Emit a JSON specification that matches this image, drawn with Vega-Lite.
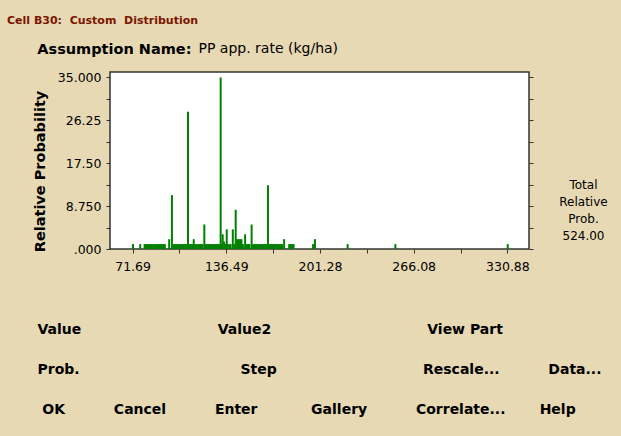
{
  "$schema": "https://vega.github.io/schema/vega-lite/v6.json",
  "width": 419,
  "height": 177,
  "autosize": {"type": "none"},
  "padding": {"left": 110, "top": 72, "right": 92, "bottom": 187},
  "background": "#E6D9B3",
  "config": {
    "view": {"fill": "white", "stroke": "#333333", "strokeWidth": 1.5},
    "font": "DejaVu Sans",
    "axis": {"domain": false, "grid": false, "tickColor": "#333333", "tickSize": 4, "labelColor": "black", "titleColor": "black", "labelFont": "DejaVu Sans", "titleFont": "DejaVu Sans"}
  },
  "title": {
    "text": "Cell B30:\u00a0 Custom\u00a0 Distribution",
    "subtitle": "\u200b\u00a0\u00a0\u00a0\u00a0\u00a0\u00a0Assumption Name:",
    "anchor": "start",
    "frame": "group",
    "dx": -103,
    "dy": 31,
    "offset": 16,
    "subtitlePadding": 17,
    "font": "DejaVu Sans",
    "fontSize": 11,
    "fontWeight": "bold",
    "color": "#7B1500",
    "subtitleFont": "DejaVu Sans",
    "subtitleFontSize": 14.5,
    "subtitleFontWeight": "bold",
    "subtitleColor": "black"
  },
  "data": {
    "values": [
      {"value": 72, "prob": 1}, {"value": 77, "prob": 1},
      {"value": 80, "prob": 1}, {"value": 81, "prob": 1}, {"value": 82, "prob": 1}, {"value": 83, "prob": 1}, {"value": 84, "prob": 1},
      {"value": 85, "prob": 1}, {"value": 86, "prob": 1}, {"value": 87, "prob": 1}, {"value": 88, "prob": 1}, {"value": 89, "prob": 1},
      {"value": 90, "prob": 1}, {"value": 91, "prob": 1}, {"value": 92, "prob": 1}, {"value": 93, "prob": 1}, {"value": 94, "prob": 1},
      {"value": 97, "prob": 2}, {"value": 98.9, "prob": 11},
      {"value": 100, "prob": 1}, {"value": 101, "prob": 1}, {"value": 102, "prob": 1}, {"value": 103, "prob": 1}, {"value": 104, "prob": 1},
      {"value": 105, "prob": 1}, {"value": 106, "prob": 1}, {"value": 107, "prob": 1}, {"value": 108, "prob": 1}, {"value": 109, "prob": 1},
      {"value": 110, "prob": 28},
      {"value": 111, "prob": 1}, {"value": 112, "prob": 1}, {"value": 113, "prob": 1}, {"value": 114, "prob": 2},
      {"value": 115, "prob": 1}, {"value": 116, "prob": 1}, {"value": 117, "prob": 1}, {"value": 118, "prob": 1}, {"value": 119, "prob": 1},
      {"value": 120, "prob": 1}, {"value": 121.3, "prob": 5},
      {"value": 122, "prob": 1}, {"value": 123, "prob": 1}, {"value": 124, "prob": 1}, {"value": 125, "prob": 1}, {"value": 126, "prob": 1},
      {"value": 127, "prob": 1}, {"value": 128, "prob": 1}, {"value": 129, "prob": 1}, {"value": 130, "prob": 1}, {"value": 131, "prob": 1},
      {"value": 132, "prob": 1}, {"value": 132.6, "prob": 35},
      {"value": 133, "prob": 1}, {"value": 134, "prob": 3}, {"value": 135, "prob": 1.5}, {"value": 136, "prob": 1}, {"value": 136.8, "prob": 4},
      {"value": 137.5, "prob": 1}, {"value": 138.5, "prob": 1}, {"value": 139.5, "prob": 1}, {"value": 141, "prob": 4}, {"value": 142, "prob": 1},
      {"value": 143, "prob": 8}, {"value": 144, "prob": 2}, {"value": 145, "prob": 2}, {"value": 146, "prob": 2}, {"value": 147, "prob": 2},
      {"value": 148, "prob": 1}, {"value": 149.5, "prob": 3}, {"value": 150.5, "prob": 1}, {"value": 151.5, "prob": 1}, {"value": 152.5, "prob": 1},
      {"value": 154, "prob": 5},
      {"value": 155, "prob": 1}, {"value": 156, "prob": 1}, {"value": 157, "prob": 1}, {"value": 158, "prob": 1}, {"value": 159, "prob": 1},
      {"value": 160, "prob": 1}, {"value": 161, "prob": 1}, {"value": 162, "prob": 1}, {"value": 163, "prob": 1}, {"value": 164, "prob": 1},
      {"value": 165.3, "prob": 13},
      {"value": 166, "prob": 1}, {"value": 167, "prob": 1}, {"value": 168, "prob": 1}, {"value": 169, "prob": 1}, {"value": 170, "prob": 1},
      {"value": 171, "prob": 1}, {"value": 172, "prob": 1}, {"value": 173, "prob": 1}, {"value": 174, "prob": 1}, {"value": 175, "prob": 1},
      {"value": 176.5, "prob": 2},
      {"value": 180, "prob": 1}, {"value": 181, "prob": 1}, {"value": 182, "prob": 1}, {"value": 183, "prob": 1},
      {"value": 196.5, "prob": 1}, {"value": 197.8, "prob": 2},
      {"value": 220.4, "prob": 1}, {"value": 253.4, "prob": 1}, {"value": 331.1, "prob": 1}
    ]
  },
  "layer": [
    {
      "mark": {"type": "bar", "width": 2, "color": "#008000"},
      "encoding": {
        "x": {
          "field": "value", "type": "quantitative",
          "scale": {"domain": [59.54, 342.35], "nice": false, "zero": false},
          "axis": {
            "orient": "bottom",
            "values": [71.69, 104.09, 136.49, 168.885, 201.28, 233.68, 266.08, 298.48, 330.88],
            "labelExpr": "datum.value == 71.69 ? '71.69' : datum.value == 136.49 ? '136.49' : datum.value == 201.28 ? '201.28' : datum.value == 266.08 ? '266.08' : datum.value == 330.88 ? '330.88' : ''",
            "labelFontSize": 12.5,
            "labelPadding": 7,
            "labelOverlap": false,
            "labelFlush": false,
            "encode": {"labels": {"update": {"dx": {"signal": "-2.3 + (datum.value - 201.28) * 0.06"}}}},
            "title": [
              "Value\u00a0\u00a0\u00a0\u00a0\u00a0\u00a0\u00a0\u00a0\u00a0\u00a0\u00a0\u00a0\u00a0\u00a0\u00a0\u00a0\u00a0\u00a0\u00a0\u00a0\u00a0\u00a0\u00a0\u00a0\u00a0\u00a0\u00a0\u00a0Value2\u00a0\u00a0\u00a0\u00a0\u00a0\u00a0\u00a0\u00a0\u00a0\u00a0\u00a0\u00a0\u00a0\u00a0\u00a0\u00a0\u00a0\u00a0\u00a0\u00a0\u00a0\u00a0\u00a0\u00a0\u00a0\u00a0\u00a0\u00a0\u00a0\u00a0\u00a0\u00a0View Part",
              "Prob.\u00a0\u00a0\u00a0\u00a0\u00a0\u00a0\u00a0\u00a0\u00a0\u00a0\u00a0\u00a0\u00a0\u00a0\u00a0\u00a0\u00a0\u00a0\u00a0\u00a0\u00a0\u00a0\u00a0\u00a0\u00a0\u00a0\u00a0\u00a0\u00a0\u00a0\u00a0\u00a0\u00a0Step\u00a0\u00a0\u00a0\u00a0\u00a0\u00a0\u00a0\u00a0\u00a0\u00a0\u00a0\u00a0\u00a0\u00a0\u00a0\u00a0\u00a0\u00a0\u00a0\u00a0\u00a0\u00a0\u00a0\u00a0\u00a0\u00a0\u00a0\u00a0\u00a0\u00a0Rescale...\u00a0\u00a0\u00a0\u00a0\u00a0\u00a0\u00a0\u00a0\u00a0\u00a0Data...",
              "\u200b\u00a0OK\u00a0\u00a0\u00a0\u00a0\u00a0\u00a0\u00a0\u00a0\u00a0\u00a0Cancel\u00a0\u00a0\u00a0\u00a0\u00a0\u00a0\u00a0\u00a0\u00a0\u00a0Enter\u00a0\u00a0\u00a0\u00a0\u00a0\u00a0\u00a0\u00a0\u00a0\u00a0\u00a0Gallery\u00a0\u00a0\u00a0\u00a0\u00a0\u00a0\u00a0\u00a0\u00a0\u00a0Correlate...\u00a0\u00a0\u00a0\u00a0\u00a0\u00a0\u00a0Help"
            ],
            "titleFontSize": 14,
            "titleFontWeight": "bold",
            "titleAlign": "left",
            "titleAnchor": "start",
            "titleAngle": 0,
            "titleBaseline": "top",
            "titleLineHeight": 40,
            "titleX": -73,
            "titleY": 73
          }
        },
        "y": {
          "field": "prob", "type": "quantitative",
          "scale": {"domain": [0, 36.1], "nice": false},
          "axis": {
            "orient": "left",
            "values": [0, 4.375, 8.75, 13.125, 17.5, 21.875, 26.25, 30.625, 35],
            "labelExpr": "datum.value == 35 ? '35.000' : datum.value == 26.25 ? '26.25' : datum.value == 17.5 ? '17.50' : datum.value == 8.75 ? '8.750' : datum.value == 0 ? '.000' : ''",
            "labelFontSize": 12.5,
            "labelPadding": 5,
            "labelOverlap": false,
            "labelFlush": false,
            "title": "Relative Probability",
            "titleFontSize": 14.5,
            "titleFontWeight": "bold",
            "titleAngle": -90,
            "titleAlign": "center",
            "titleBaseline": "middle",
            "titleX": -70,
            "titleY": 99
          }
        }
      }
    },
    {
      "mark": {"type": "bar", "width": 2, "opacity": 0},
      "encoding": {
        "x": {
          "field": "value", "type": "quantitative",
          "axis": {
            "orient": "top",
            "labels": false,
            "ticks": false,
            "title": "PP app. rate (kg/ha)",
            "titleFontSize": 14,
            "titleFontWeight": "normal",
            "titleAlign": "left",
            "titleAnchor": "start",
            "titleAngle": 0,
            "titleBaseline": "middle",
            "titleX": 88,
            "titleY": -24
          }
        },
        "y": {
          "field": "prob", "type": "quantitative",
          "axis": {
            "orient": "right",
            "values": [0, 4.375, 8.75, 13.125, 17.5, 21.875, 26.25, 30.625, 35],
            "labels": false,
            "title": ["Total", "Relative", "Prob.", "524.00"],
            "titleFontSize": 12,
            "titleFontWeight": "normal",
            "titleAngle": 0,
            "titleAlign": "center",
            "titleBaseline": "top",
            "titleLineHeight": 17,
            "titleX": 54,
            "titleY": 107
          }
        }
      }
    }
  ],
  "resolve": {"axis": {"x": "independent", "y": "independent"}}
}
